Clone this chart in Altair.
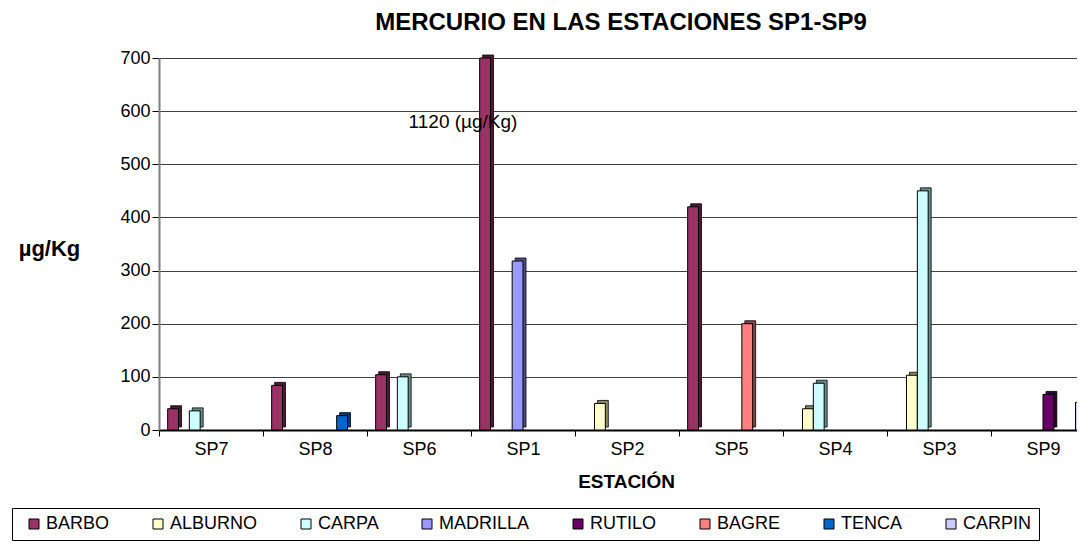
import altair as alt
import pandas as pd

stations = ["SP7", "SP8", "SP6", "SP1", "SP2", "SP5", "SP4", "SP3", "SP9"]
species = ["BARBO", "ALBURNO", "CARPA", "MADRILLA", "RUTILO", "BAGRE", "TENCA", "CARPIN"]
colors = ["#993366", "#FFFFCC", "#CCFFFF", "#9999FF", "#660066", "#FF8080", "#0066CC", "#CCCCFF"]
side_colors = ["#4d1a33", "#8a8a66", "#6b8a8a", "#50508a", "#330033", "#8a4545", "#003a73", "#6b6b8a"]

barbo = [40, 84, 104, 1120, None, 420, None, None, None]
alburno = [None, None, None, None, 50, None, 40, 103, None]
carpa = [36, None, 100, None, None, None, 88, 450, None]
madrilla = [None, None, None, 318, None, None, None, None, None]
rutilo = [None, None, None, None, None, None, None, None, 67]
bagre = [None, None, None, None, None, 200, None, None, None]
tenca = [None, 27, None, None, None, None, None, None, None]
carpin = [None, None, None, None, None, None, None, None, 52]

annot_station = ["SP1"]
annot_value = [580]
annot_text = ["1120 (µg/Kg)"]

series = [barbo, alburno, carpa, madrilla, rutilo, bagre, tenca, carpin]
rows = []
for sp, vals, sc in zip(species, series, side_colors):
    for st, v in zip(stations, vals):
        if v is not None:
            rows.append({"station": st, "species": sp, "value": v, "side": sc})
df = pd.DataFrame(rows)
annot_df = pd.DataFrame({"station": annot_station, "value": annot_value, "label": annot_text})

FONT = "Liberation Sans"

x_enc = alt.X(
    "station:N",
    scale=alt.Scale(domain=stations, range=[0, 936], paddingInner=0, paddingOuter=0),
    axis=alt.Axis(
        title="ESTACIÓN", titleX=467, titleY=51, titleAlign="center", titleBaseline="middle",
        titleFontSize=19, titleFontWeight="bold", titleFont=FONT, titleColor="black",
        labelAngle=0, labelFontSize=18, labelFont=FONT, labelColor="black",
        tickBand="extent", tickSize=6, tickColor="black", labelPadding=4,
        domainColor="black", domainWidth=2, grid=False,
    ),
)
y_enc = alt.Y(
    "value:Q",
    scale=alt.Scale(domain=[0, 700], clamp=True, nice=False),
    axis=alt.Axis(
        values=[0, 100, 200, 300, 400, 500, 600, 700],
        title="µg/Kg", titleAngle=0, titleX=-110, titleY=190, titleAlign="center",
        titleBaseline="middle", titleFontSize=22, titleFontWeight="bold", titleFont=FONT,
        titleColor="black",
        labelFontSize=18, labelFont=FONT, labelColor="black", labelPadding=2,
        tickSize=7, tickColor="black", grid=True, gridColor="#404040", gridWidth=1,
        domainColor="#808080", domainWidth=2,
    ),
)

side = alt.Chart(df).mark_bar(yOffset=-3, stroke="black", strokeWidth=0.8).encode(
    x=x_enc,
    xOffset=alt.XOffset("species:N", scale=alt.Scale(domain=species, range=[3, 107],
                                                     paddingInner=0, paddingOuter=0.8)),
    y=y_enc,
    color=alt.Color("side:N", scale=None),
)

front = alt.Chart(df).mark_bar(stroke="black", strokeWidth=1).encode(
    x=x_enc,
    xOffset=alt.XOffset("species:N", scale=alt.Scale(domain=species, paddingInner=0,
                                                     paddingOuter=0.8)),
    y=y_enc,
    color=alt.Color(
        "species:N",
        scale=alt.Scale(domain=species, range=colors),
        legend=alt.Legend(
            orient="none", legendX=-147, legendY=450, direction="horizontal", columns=8,
            title="\u00a0", titleOrient="left", titlePadding=6, titleFontSize=18,
            padding=7, strokeColor="black", fillColor="white",
            symbolType="square", symbolSize=100, symbolStrokeColor="black",
            symbolStrokeWidth=1, symbolOpacity=1,
            labelFontSize=18, labelFont=FONT, labelColor="black", labelOffset=3,
            columnPadding=39,
        ),
    ),
)

text = alt.Chart(annot_df).mark_text(
    fontSize=19, font=FONT, color="black", dx=-60, align="center", baseline="middle"
).encode(x=x_enc, y=y_enc, text="label:N")

chart = (
    alt.layer(side, front, text)
    .resolve_scale(xOffset="independent")
    .properties(
        width=918,
        height=372,
        autosize=alt.AutoSizeParams(type="none"),
        padding={"left": 151, "top": 50, "right": 0, "bottom": 115},
        title=alt.TitleParams(
            "MERCURIO EN LAS ESTACIONES SP1-SP9", fontSize=24, font=FONT,
            fontWeight="bold", color="black", anchor="middle", dx=3, offset=14,
        ),
    )
    .configure_view(stroke=None)
)

chart.save("out.html", embed_options={"renderer": "svg", "actions": False})
